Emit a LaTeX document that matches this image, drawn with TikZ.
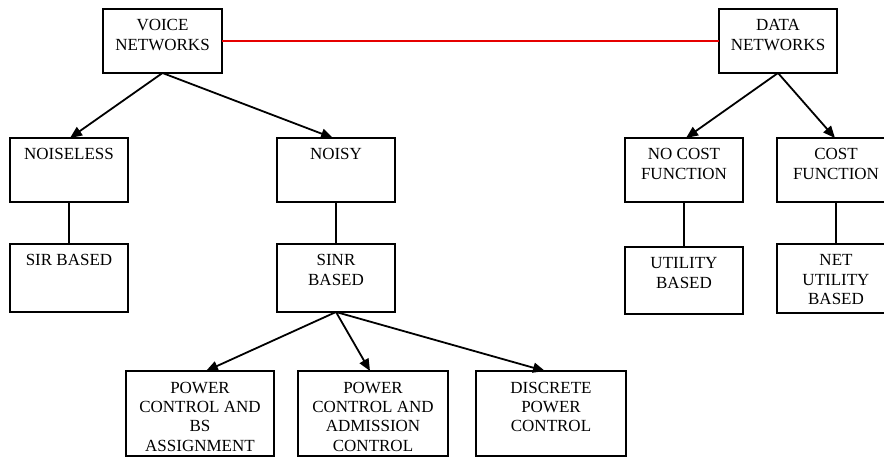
\documentclass[tikz,border=0pt]{standalone}
\usepackage{fontspec}
\setmainfont{Liberation Serif}
\usetikzlibrary{arrows.meta}
\newcommand{\boxtext}[3]{\parbox[c][#2pt][t]{#1pt}{\fontsize{17pt}{19.4pt}\selectfont\centering\rule{0pt}{22pt}#3\par}}
\tikzset{
  box/.style={draw, line width=1.3pt, inner sep=0pt, outer sep=0pt},
  arr/.style={line width=1.8pt, -{Triangle[length=12pt,width=10pt]}},
  con/.style={line width=1.8pt},
  redline/.style={line width=1.7pt, draw={rgb,255:red,230;green,0;blue,0}},
}
\begin{document}
\begin{tikzpicture}[x=1pt,y=-1pt]
\fill[white] (0,0) rectangle (884,457);
\useasboundingbox (0,0) rectangle (884,457);
\node[box] (voice) at (162.5,41) {\boxtext{119}{64}{VOICE\\NETWORKS}};
\node[box] (data) at (778,41) {\boxtext{118}{64}{DATA\\NETWORKS}};
\node[box] (noiseless) at (69,170) {\boxtext{118}{64}{NOISELESS}};
\node[box] (noisy) at (336,170) {\boxtext{118}{64}{NOISY}};
\node[box] (nocost) at (684,170) {\boxtext{118}{64}{NO COST\\FUNCTION}};
\node[box] (cost) at (836,170) {\boxtext{118}{64}{COST\\FUNCTION}};
\node[box] (sir) at (69,278) {\boxtext{118}{68}{SIR BASED}};
\node[box] (sinr) at (336,278) {\boxtext{118}{68}{SINR\\BASED}};
\node[box] (util) at (684,280.5) {\boxtext{118}{67}{UTILITY\\BASED}};
\node[box] (netutil) at (836,278.5) {\boxtext{118}{69}{NET\\UTILITY\\BASED}};
\node[box] (pcbs) at (200,413.5) {\boxtext{148}{85}{POWER\\CONTROL AND\\BS\\ASSIGNMENT}};
\node[box] (pcac) at (373,413.5) {\boxtext{150}{85}{POWER\\CONTROL AND\\ADMISSION\\CONTROL}};
\node[box] (dpc) at (551,413.5) {\boxtext{150}{85}{DISCRETE\\POWER\\CONTROL}};
\draw[redline] (voice.east) -- (data.west);
\draw[arr] (voice.south) -- ([xshift=1pt]noiseless.north);
\draw[arr] (voice.south) -- ([xshift=-3pt]noisy.north);
\draw[arr] (data.south) -- ([xshift=2pt]nocost.north);
\draw[arr] (data.south) -- ([xshift=-1pt]cost.north);
\draw[con] (noiseless.south) -- (sir.north);
\draw[con] (noisy.south) -- (sinr.north);
\draw[con] (nocost.south) -- (util.north);
\draw[con] (cost.south) -- (netutil.north);
\draw[arr] (sinr.south) -- ([xshift=6pt]pcbs.north);
\draw[arr] (sinr.south) -- ([xshift=-3pt]pcac.north);
\draw[arr] (sinr.south) -- ([xshift=-6pt]dpc.north);
\end{tikzpicture}
\end{document}
